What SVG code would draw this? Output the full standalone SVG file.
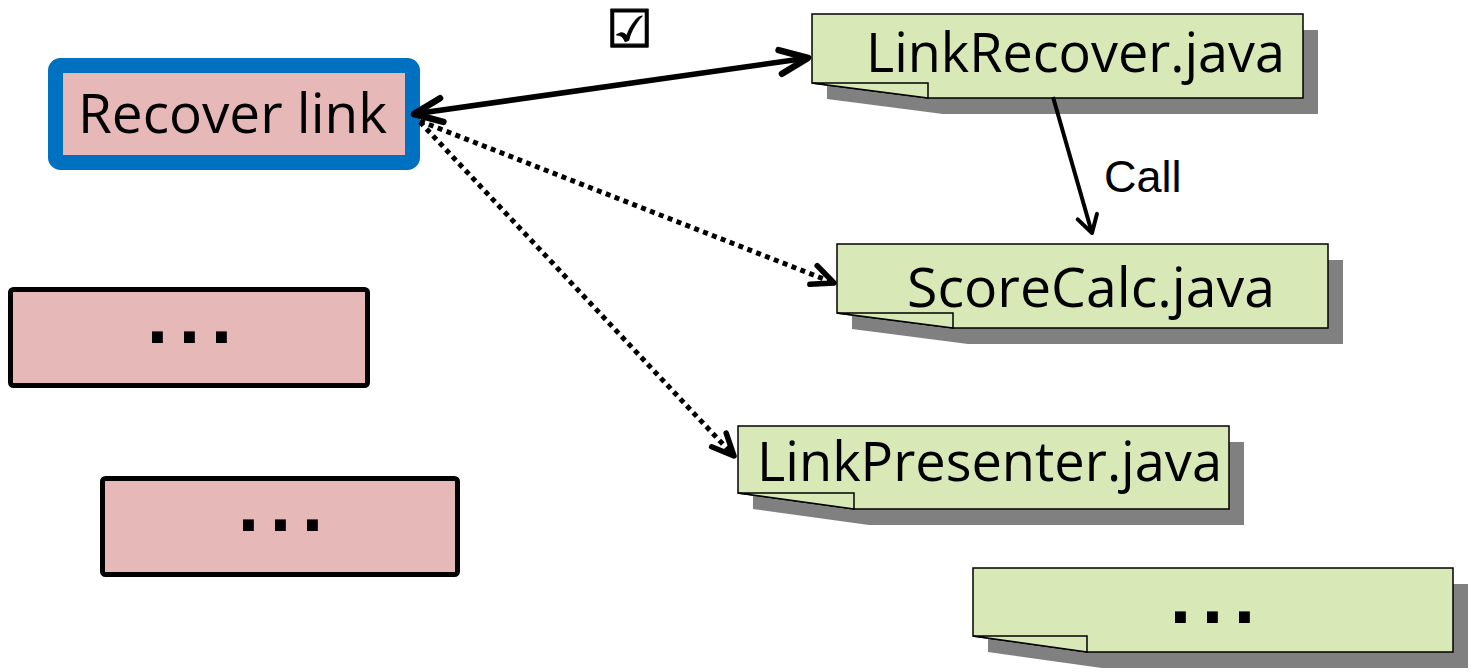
<svg xmlns="http://www.w3.org/2000/svg" width="1484" height="672" viewBox="0 0 1484 672">
  <style>
    .label { font-family: "Open Sans", "Noto Sans", sans-serif; font-size: 55px; fill: #000; }
    .call { font-family: "Liberation Sans", Arial, sans-serif; font-size: 45px; fill: #000; }
    .dots { font-family: "Liberation Sans", Arial, sans-serif; font-weight: bold; font-size: 77px; letter-spacing: 10.6px; fill: #000; }
    .note { fill: #D8E8B6; stroke: #000; stroke-width: 1.5; stroke-linejoin: miter; }
    .shadow { fill: #808080; }
    .task { fill: #E6B8B7; stroke: #000; stroke-width: 5; }
    .solid { fill: none; stroke: #000; stroke-width: 5.5; }
    .dotted { fill: none; stroke: #000; stroke-width: 5; stroke-dasharray: 5 4.5; }
    .thin { fill: none; stroke: #000; stroke-width: 4; }
  </style>
  <defs>
    <marker id="headBig" markerUnits="userSpaceOnUse" viewBox="-36 -20 44 40" refX="0" refY="0" markerWidth="44" markerHeight="40" orient="auto-start-reverse" overflow="visible">
      <path d="M-28,-12 L0,0 L-28,12" fill="none" stroke="#000" stroke-width="6.5" stroke-linecap="round" stroke-linejoin="round"/>
    </marker>
    <marker id="headDot" markerUnits="userSpaceOnUse" viewBox="-30 -16 36 32" refX="0" refY="0" markerWidth="36" markerHeight="32" orient="auto" overflow="visible">
      <path d="M-22,-10 L0,0 L-22,10" fill="none" stroke="#000" stroke-width="5.5" stroke-linecap="round" stroke-linejoin="round"/>
    </marker>
    <marker id="headThin" markerUnits="userSpaceOnUse" viewBox="-24 -14 30 28" refX="0" refY="0" markerWidth="30" markerHeight="28" orient="auto" overflow="visible">
      <path d="M-17,-10 L0,0 L-17,10" fill="none" stroke="#000" stroke-width="4" stroke-linecap="round" stroke-linejoin="round"/>
    </marker>
  </defs>

  <rect width="1484" height="672" fill="#fff"/>

  <!-- feature / task boxes -->
  <g id="recover-link">
    <rect x="55.5" y="65.5" width="357" height="97" rx="5" fill="#E6B8B7" stroke="#0070C0" stroke-width="15"/>
    <text class="label" x="78" y="133" textLength="309" lengthAdjust="spacingAndGlyphs">Recover link</text>
  </g>
  <g id="task-2">
    <rect class="task" x="10.5" y="289.5" width="357" height="96" rx="3"/>
    <text class="dots" x="146.8" y="343">...</text>
  </g>
  <g id="task-3">
    <rect class="task" x="102.5" y="478.5" width="355" height="96" rx="3"/>
    <text class="dots" x="237.8" y="531">...</text>
  </g>

  <!-- source file notes (with shadow and folded corner) -->
  <g id="link-recover-java">
    <path class="shadow" d="M827,30 H1318 V114 H943 L827,99 Z"/>
    <path class="note" d="M812,14 H1303 V98 H928 L812,83 Z"/>
    <path class="note" d="M812,83 H928 V98 Z"/>
    <text class="label" x="866" y="72" textLength="419" lengthAdjust="spacingAndGlyphs">LinkRecover.java</text>
  </g>
  <g id="score-calc-java">
    <path class="shadow" d="M852,260 H1343 V344 H968 L852,329 Z"/>
    <path class="note" d="M837,244 H1328 V328 H953 L837,313 Z"/>
    <path class="note" d="M837,313 H953 V328 Z"/>
    <text class="label" x="907" y="307" textLength="368" lengthAdjust="spacingAndGlyphs">ScoreCalc.java</text>
  </g>
  <g id="link-presenter-java">
    <path class="shadow" d="M753,442 H1244 V525 H869 L753,509 Z"/>
    <path class="note" d="M738,426 H1229 V509 H854 L738,493 Z"/>
    <path class="note" d="M738,493 H854 V509 Z"/>
    <text class="label" x="757" y="481" textLength="465" lengthAdjust="spacingAndGlyphs">LinkPresenter.java</text>
  </g>
  <g id="file-more">
    <path class="shadow" d="M988,584 H1468 V668 H1102 L988,652 Z"/>
    <path class="note" d="M973,568 H1453 V652 H1087 L973,636 Z"/>
    <path class="note" d="M973,636 H1087 V652 Z"/>
    <text class="dots" x="1169.8" y="623">...</text>
  </g>

  <!-- connectors -->
  <g id="connectors">
    <line class="solid" x1="414" y1="114" x2="808" y2="58" marker-start="url(#headBig)" marker-end="url(#headBig)"/>
    <line class="dotted" x1="420" y1="121" x2="834" y2="283" marker-end="url(#headDot)"/>
    <line class="dotted" x1="420" y1="122" x2="734" y2="456" marker-end="url(#headDot)"/>
    <line class="thin" x1="1053" y1="97" x2="1092" y2="233" marker-end="url(#headThin)"/>
    <text class="call" x="1104" y="192">Call</text>
    <text x="606" y="47" font-family="DejaVu Sans, sans-serif" font-size="52" fill="#000" stroke="#000" stroke-width="1.2">☑</text>
  </g>
</svg>
